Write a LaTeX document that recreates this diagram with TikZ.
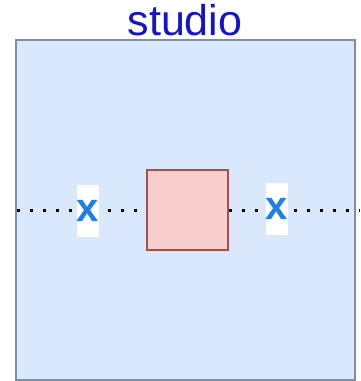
\documentclass[tikz,border=0pt]{standalone}
\usepackage{fontspec}
\setmainfont{Liberation Sans}
\definecolor{outerfill}{HTML}{DAE8FC}
\definecolor{outerdraw}{HTML}{7F8FA3}
\definecolor{redfill}{HTML}{F8CECC}
\definecolor{reddraw}{HTML}{A8504C}
\definecolor{titleblue}{HTML}{1414C8}
\definecolor{xblue}{HTML}{1E7FE6}
\begin{document}
\begin{tikzpicture}[x=1pt,y=-1pt,
  outerbox/.style={draw=outerdraw,fill=outerfill,line width=1.2pt},
  redbox/.style={draw=reddraw,fill=redfill,line width=1.2pt},
  dotline/.style={line width=3pt,dash pattern=on 3pt off 10pt,black},
  xlabel/.style={fill=white,inner sep=0pt,minimum width=21pt,minimum height=52pt,text=xblue,font=\fontsize{40}{40}\selectfont\bfseries}
]
\useasboundingbox (0,0) rectangle (360,381);
\node[font=\fontsize{43}{43}\selectfont,text=titleblue,inner sep=0pt] (title) at (185,20) {studio};
\draw[outerbox] (16,40) rectangle (355,380);
\node[redbox,minimum width=81pt,minimum height=80pt,inner sep=0pt] (sq) at (187.5,210) {};
\coordinate (L) at (17,210);
\coordinate (R) at (360,210);
\draw[dotline] (L) -- (sq.west);
\draw[dotline] (sq.east) -- (R);
\node[xlabel] (x1) at (88,211) {\raisebox{-4pt}{x}};
\node[xlabel] (x2) at (277,209) {\raisebox{-4pt}{x}};
\end{tikzpicture}
\end{document}
